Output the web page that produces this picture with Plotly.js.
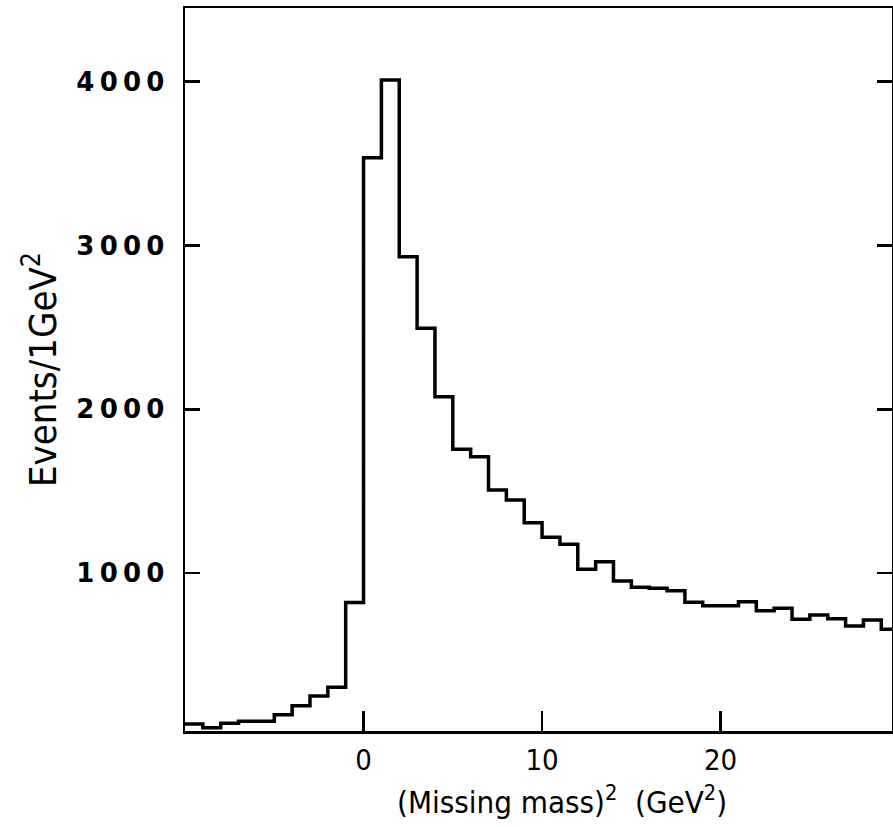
<!DOCTYPE html>
<html>
<head>
<meta charset="utf-8">
<script src="https://cdn.plot.ly/plotly-3.0.1.min.js"></script>
<style>html,body{margin:0;padding:0;background:#fff;}#chart{width:893px;height:827px;}</style>
</head>
<body>
<div id="chart"></div>
<script>
// Bin lower edges (GeV^2), 1 GeV^2 wide bins
const binLow = [-10,-9,-8,-7,-6,-5,-4,-3,-2,-1,0,1,2,3,4,5,6,7,8,9,10,11,12,13,14,15,16,17,18,19,20,21,22,23,24,25,26,27,28,29];
const binWidth = 1;
// Events per bin
const events = [79,56,83,95,95,135,190,250,303,820,3536,4010,2932,2495,2077,1756,1711,1507,1446,1308,1219,1176,1023,1070,952,913,907,893,822,800,800,825,770,785,718,744,722,677,714,657];
const yTickVals = [1000,2000,3000,4000];
const yTickText = ['1\u20090\u20090\u20090','2\u20090\u20090\u20090','3\u20090\u20090\u20090','4\u20090\u20090\u20090'];
const xTickVals = [0,10,20];
const xTickText = ['0','10','20'];
const xTitle = '(Missing mass)<sup>2</sup>  (GeV<sup>2</sup>)';
const yTitle = 'Events/1GeV<sup>2</sup>';

const xs = binLow.concat([binLow[binLow.length-1] + binWidth]);
const ys = events.concat([events[events.length-1]]);

const condensed = '"DejaVu Sans Condensed", "Liberation Sans Narrow", "Roboto Condensed", "DejaVu Sans", sans-serif';

const trace = {
  x: xs, y: ys, type: 'scatter', mode: 'lines',
  line: {shape: 'hv', color: '#000', width: 3.5},
  hoverinfo: 'skip'
};

const layout = {
  width: 893, height: 827,
  margin: {l: 185, r: 1, t: 8, b: 96},
  paper_bgcolor: '#fff', plot_bgcolor: '#fff',
  showlegend: false,
  xaxis: {
    range: [-10, 29.6], tickvals: xTickVals, ticktext: xTickText,
    ticks: 'inside', ticklen: 20, tickwidth: 2.5, tickcolor: '#000',
    showline: true, linecolor: '#000', linewidth: 2.5, mirror: true,
    showgrid: false, zeroline: false,
    ticklabelstandoff: 2,
    tickfont: {family: condensed, size: 29, color: '#000'},
    automargin: false
  },
  yaxis: {
    range: [36, 4450], tickvals: yTickVals, ticktext: yTickText,
    ticks: 'inside', ticklen: 15, tickwidth: 2.5, tickcolor: '#000',
    showline: true, linecolor: '#000', linewidth: 2.5, mirror: 'ticks',
    showgrid: false, zeroline: false,
    ticklabelstandoff: 13,
    tickfont: {family: '"DejaVu Sans", sans-serif', size: 26, color: '#000', weight: 'bold'},
    title: {text: yTitle, font: {family: condensed, size: 38, color: '#000'}, standoff: 8},
    automargin: false
  },
  annotations: [{
    text: xTitle, xref: 'paper', yref: 'paper', x: 0.533, y: -0.0954,
    xanchor: 'center', yanchor: 'middle', showarrow: false,
    font: {family: condensed, size: 31, color: '#000'}
  }]
};

Plotly.newPlot('chart', [trace], layout, {staticPlot: true, displayModeBar: false});
</script>
</body>
</html>
